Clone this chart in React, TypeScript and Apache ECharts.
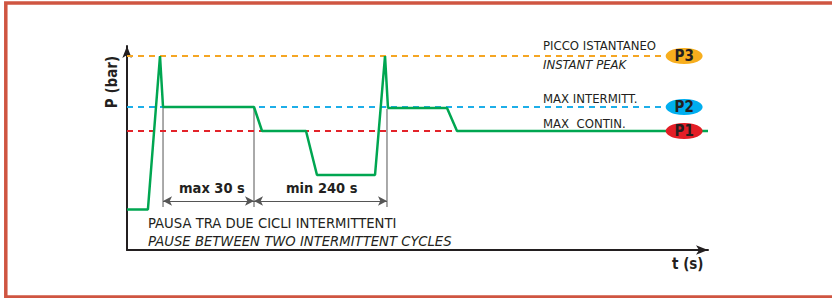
import React, { useEffect, useRef } from "react";
import * as echarts from "echarts";

// Pressure profile (schematic units)
const timeValues = [0, 3.6, 5.68, 6.2, 21.86, 23.24, 30.81, 32.7, 42.69, 44.41, 44.92, 55.08, 56.8, 100];
const pressureValues = [4.05, 4.05, 19.4, 14.3, 14.3, 11.9, 11.9, 7.5, 7.5, 19.4, 14.2, 14.2, 11.9, 11.9];

// Reference levels
const levelNames = ["P3", "P2", "P1"];
const levelValues = [19.4, 14.3, 11.9];
const levelDashEnd = [92.6, 92.6, 57];
const levelBadgeX = 95.9;
const levelColors = ["#F5A623", "#1DAEE8", "#E3232A"];
const badgeColors = ["#F7AE1E", "#00AEEF", "#E31E26"];

// Cycle markers
const markerTimes = [6.2, 21.86, 44.75];
const markerTop = [14.3, 14.3, 14.1];
const markerBottom = 4.3;
const dimensionLevel = 4.9;

const FONT = "'Liberation Sans Narrow', 'DejaVu Sans Condensed', 'Roboto Condensed', sans-serif";
const DARK = "#231F20";

export default function App() {
  const ref = useRef<HTMLDivElement>(null);
  useEffect(() => {
    if (!ref.current) return;
    const chart = echarts.init(ref.current, undefined, { renderer: "svg" });
    const series: any[] = [];
    levelValues.forEach((v, i) => {
      series.push({
        type: "line",
        data: [[0, v], [levelDashEnd[i], v]],
        symbol: "none",
        lineStyle: { color: levelColors[i], width: 2, type: [6, 5] },
        z: 2,
      });
    });
    markerTimes.forEach((t, i) => {
      series.push({
        type: "line",
        data: [[t, markerTop[i]], [t, markerBottom]],
        symbol: "none",
        lineStyle: { color: "#555", width: 1 },
        z: 1,
      });
    });
    series.push({
      type: "line",
      data: [],
      symbol: "none",
      markLine: {
        silent: true,
        symbol: ["arrow", "arrow"],
        symbolSize: [7, 9],
        label: { show: false },
        lineStyle: { color: "#555", width: 1, type: "solid" },
        data: [
          [{ coord: [markerTimes[0], dimensionLevel] }, { coord: [markerTimes[1], dimensionLevel] }],
          [{ coord: [markerTimes[1], dimensionLevel] }, { coord: [markerTimes[2], dimensionLevel] }],
        ],
      },
    });
    series.push({
      type: "line",
      data: timeValues.map((t, i) => [t, pressureValues[i]]),
      symbol: "none",
      lineStyle: { color: "#00A651", width: 2.5 },
      z: 3,
    });
    series.push({
      type: "scatter",
      symbol: "circle",
      symbolSize: [37, 16],
      z: 5,
      data: levelNames.map((n, i) => ({
        name: n,
        value: [levelBadgeX, levelValues[i]],
        itemStyle: { color: badgeColors[i], opacity: 1 },
      })),
      label: {
        show: true,
        position: "inside",
        formatter: "{b}",
        color: DARK,
        fontWeight: "bold",
        fontSize: 15,
        fontFamily: FONT,
      },
    });

    const txt = (x: number, y: number, text: string, opts: any = {}) => ({
      type: "text",
      x,
      y,
      style: {
        text,
        fill: DARK,
        fontFamily: FONT,
        fontSize: 14.7,
        textVerticalAlign: "middle",
        ...opts,
      },
    });

    chart.setOption({
      animation: false,
      grid: { left: 127, right: 124, top: 46, bottom: 48 },
      xAxis: {
        type: "value",
        min: 0,
        max: 100,
        axisLine: { show: true, onZero: false, symbol: ["none", "arrow"], symbolSize: [7, 12], lineStyle: { color: DARK, width: 2 } },
        axisTick: { show: false },
        axisLabel: { show: false },
        splitLine: { show: false },
      },
      yAxis: {
        type: "value",
        min: 0,
        max: 20.4,
        axisLine: { show: true, onZero: false, symbol: ["none", "arrow"], symbolSize: [7, 12], lineStyle: { color: DARK, width: 2 } },
        axisTick: { show: false },
        axisLabel: { show: false },
        splitLine: { show: false },
      },
      series,
      graphic: [
        {
          type: "rect",
          shape: { x: 5.8, y: 2.9, width: 900, height: 294 },
          style: { fill: "none", stroke: "#CF5541", lineWidth: 3.5 },
        },
        txt(543, 45, "PICCO ISTANTANEO", { fontSize: 13 }),
        txt(543, 64, "INSTANT PEAK", { fontStyle: "italic", fontSize: 13 }),
        txt(543, 98, "MAX INTERMITT.", { fontSize: 13 }),
        txt(543, 123, "MAX  CONTIN.", { fontSize: 13 }),
        txt(179, 188, "max 30 s", { fontWeight: "bold", fontSize: 14.5 }),
        txt(286, 188, "min 240 s", { fontWeight: "bold", fontSize: 14.5 }),
        txt(148, 222, "PAUSA TRA DUE CICLI INTERMITTENTI"),
        txt(148, 240, "PAUSE BETWEEN TWO INTERMITTENT CYCLES", { fontStyle: "italic" }),
        txt(672, 264, "t (s)", { fontWeight: "bold", fontSize: 15 }),
        {
          type: "text",
          x: 112,
          y: 82,
          rotation: Math.PI / 2,
          style: {
            text: "P (bar)",
            fill: DARK,
            fontFamily: FONT,
            fontSize: 15,
            fontWeight: "bold",
            textAlign: "center",
            textVerticalAlign: "middle",
          },
        },
      ],
    });
    return () => chart.dispose();
  }, []);
  return <div ref={ref} style={{ position: "absolute", left: 0, top: 0, width: 832, height: 298 }} />;
}
